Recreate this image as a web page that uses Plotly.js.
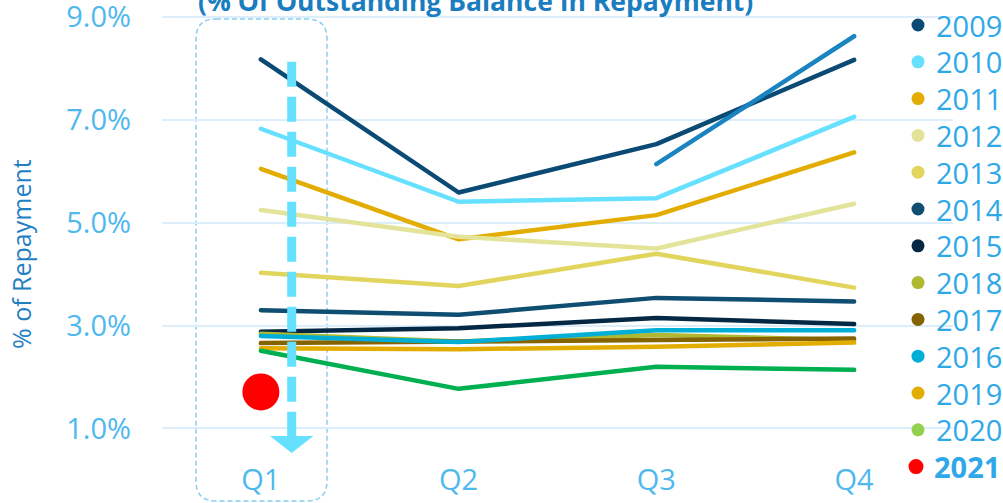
<!DOCTYPE html>
<html>
<head>
<meta charset="utf-8">
<script src="https://cdn.plot.ly/plotly-3.0.1.min.js"></script>
<style>
  html, body { margin: 0; padding: 0; background: #fff; }
  #chart { width: 1003px; height: 503px; }
  .scatterlayer .js-line { stroke-linecap: round; stroke-linejoin: round; }
</style>
</head>
<body>
<div id="chart"></div>
<script>
// ---------------- data ----------------
const quarters = ['Q1', 'Q2', 'Q3', 'Q4'];
const years = ['2009', '2010', '2011', '2012', '2013', '2014', '2015', '2018', '2017', '2016', '2019', '2020'];
const v2009 = [8.18, 5.59, 6.53, 8.17];
const v2010 = [6.83, 5.41, 5.48, 7.06];
const v2011 = [6.05, 4.68, 5.15, 6.37];
const v2012 = [5.25, 4.73, 4.50, 5.37];
const v2013 = [4.03, 3.77, 4.40, 3.74];
const v2014 = [3.30, 3.21, 3.54, 3.47];
const v2015 = [2.88, 2.95, 3.15, 3.03];
const v2018 = [2.84, 2.69, 2.82, 2.72];
const v2017 = [2.66, 2.70, 2.72, 2.75];
const v2016 = [2.80, 2.68, 2.91, 2.91];
const v2019 = [2.56, 2.54, 2.59, 2.67];
const v2020 = [2.51, 1.77, 2.20, 2.14];
const v2021 = [1.71];
const vExtra = [null, null, 6.14, 8.63];
const yTickVals = [1, 3, 5, 7, 9];
const yTickText = ['1.0%', '3.0%', '5.0%', '7.0%', '9.0%'];
const legendLabels = ['2009', '2010', '2011', '2012', '2013', '2014', '2015', '2018', '2017', '2016', '2019', '2020', '2021'];
const titleText = '(% Of Outstanding Balance In Repayment)';
const yTitleText = '% of Repayment';

// ---------------- styles ----------------
const seriesValues = [v2009, v2010, v2011, v2012, v2013, v2014, v2015, v2018, v2017, v2016, v2019, v2020];
const lineColors = ['#0B4A74', '#66E0FF', '#E2AC00', '#E3E39A', '#E2D55E', '#0F4D71', '#042843',
                    '#AFB830', '#856300', '#00AED6', '#E2AC00', '#00B050'];
const legendColors = ['#0B4A74', '#66E0FF', '#E2AC00', '#E3E39A', '#E2D55E', '#0F4D71', '#042843',
                      '#AFB830', '#856300', '#00AED6', '#E2AC00', '#92D050', '#FF0000'];
const extraColor = '#1A84C0';
const FONT = 'Open Sans, Noto Sans, sans-serif';

// plot geometry (pixels)
const W = 1003, H = 503;
const M = { l: 162, r: 50, t: 0, b: 43 };
const PW = W - M.l - M.r, PH = H - M.t - M.b;
const px = x => (x - M.l) / PW;
const py = y => (H - M.b - y) / PH;

// ---------------- traces ----------------
const traces = [];
seriesValues.forEach((vals, i) => {
  traces.push({
    type: 'scatter', mode: 'lines', name: years[i],
    x: quarters, y: vals,
    line: { color: lineColors[i], width: 4.5 },
    showlegend: false, hoverinfo: 'skip'
  });
});
traces.push({
  type: 'scatter', mode: 'lines', name: 'extra',
  x: quarters, y: vExtra, connectgaps: false,
  line: { color: extraColor, width: 4.5 },
  showlegend: false, hoverinfo: 'skip'
});
traces.push({
  type: 'scatter', mode: 'markers', name: '2021',
  x: quarters.slice(0, v2021.length), y: v2021,
  marker: { color: '#FF0000', size: 37 },
  showlegend: false, hoverinfo: 'skip'
});

// ---------------- shapes ----------------
const shapes = [];
// rounded dashed box around Q1
(function () {
  const xl = px(196), xr = px(327), yt = py(19), yb = py(501);
  const rx = 20 / PW, ry = 20 / PH;
  const p = `M ${xl + rx},${yt} L ${xr - rx},${yt} Q ${xr},${yt} ${xr},${yt - ry} ` +
            `L ${xr},${yb + ry} Q ${xr},${yb} ${xr - rx},${yb} L ${xl + rx},${yb} ` +
            `Q ${xl},${yb} ${xl},${yb + ry} L ${xl},${yt - ry} Q ${xl},${yt} ${xl + rx},${yt} Z`;
  shapes.push({ type: 'path', xref: 'paper', yref: 'paper', path: p, layer: 'below',
    line: { color: '#8CCDF2', width: 1.5, dash: '5px,3px' }, fillcolor: 'rgba(0,0,0,0)' });
})();
// dashed arrow
shapes.push({ type: 'line', xref: 'paper', yref: 'paper',
  x0: px(291.7), x1: px(291.7), y0: py(61.7), y1: py(436.7),
  line: { color: '#66E0FF', width: 9, dash: '25px,10px' }, layer: 'above' });
shapes.push({ type: 'path', xref: 'paper', yref: 'paper',
  path: `M ${px(270)},${py(436)} L ${px(313.4)},${py(436)} L ${px(291.7)},${py(453)} Z`,
  fillcolor: '#66E0FF', line: { width: 0 }, layer: 'above' });
// legend dots
legendLabels.forEach((lab, i) => {
  const cy = 25 + 36.8 * i;
  const isLast = i === legendLabels.length - 1;
  const r = isLast ? 7.5 : 6.5;
  const cx = isLast ? 916 : 918;
  shapes.push({ type: 'circle', xref: 'paper', yref: 'paper',
    x0: px(cx - r), x1: px(cx + r), y0: py(cy + r), y1: py(cy - r),
    fillcolor: legendColors[i], line: { width: 0 }, layer: 'above' });
});

// ---------------- annotations ----------------
const annotations = [];
legendLabels.forEach((lab, i) => {
  const cy = 25 + 36.8 * i;
  const isLast = i === legendLabels.length - 1;
  annotations.push({ xref: 'paper', yref: 'paper', x: px(isLast ? 932 : 934), y: py(cy),
    xanchor: 'left', yanchor: 'middle', showarrow: false,
    text: isLast ? '<b>' + lab + '</b>' : lab,
    font: { family: FONT, size: 29, color: '#2EA8E8' } });
});
annotations.push({ xref: 'paper', yref: 'paper', x: px(475), y: py(1),
  xanchor: 'center', yanchor: 'middle', showarrow: false,
  text: '<b>' + titleText + '</b>',
  font: { family: FONT, size: 26.5, color: '#1A7DC0' } });
annotations.push({ xref: 'paper', yref: 'paper', x: px(21), y: py(254),
  xanchor: 'center', yanchor: 'middle', showarrow: false, textangle: -90,
  text: yTitleText,
  font: { family: FONT, size: 25, color: '#1F80C4' } });

// ---------------- layout ----------------
const layout = {
  width: W, height: H,
  margin: M,
  paper_bgcolor: '#ffffff', plot_bgcolor: '#ffffff',
  showlegend: false,
  xaxis: {
    type: 'category', categoryorder: 'array', categoryarray: quarters,
    range: [-0.5, 3.5], showgrid: false, zeroline: false, showline: false,
    ticks: '', tickfont: { family: FONT, size: 29, color: '#4FB8EE' }
  },
  yaxis: {
    range: [0.386, 9.335], tickmode: 'array', tickvals: yTickVals, ticktext: yTickText,
    showgrid: true, gridcolor: '#DCEEFB', gridwidth: 2,
    zeroline: false, showline: false, ticks: '',
    ticklabelstandoff: 30, ticklabeloverflow: 'allow',
    tickfont: { family: FONT, size: 29, color: '#4FB8EE' }
  },
  shapes: shapes,
  annotations: annotations
};

Plotly.newPlot('chart', traces, layout, { displayModeBar: false, staticPlot: true });
</script>
</body>
</html>
